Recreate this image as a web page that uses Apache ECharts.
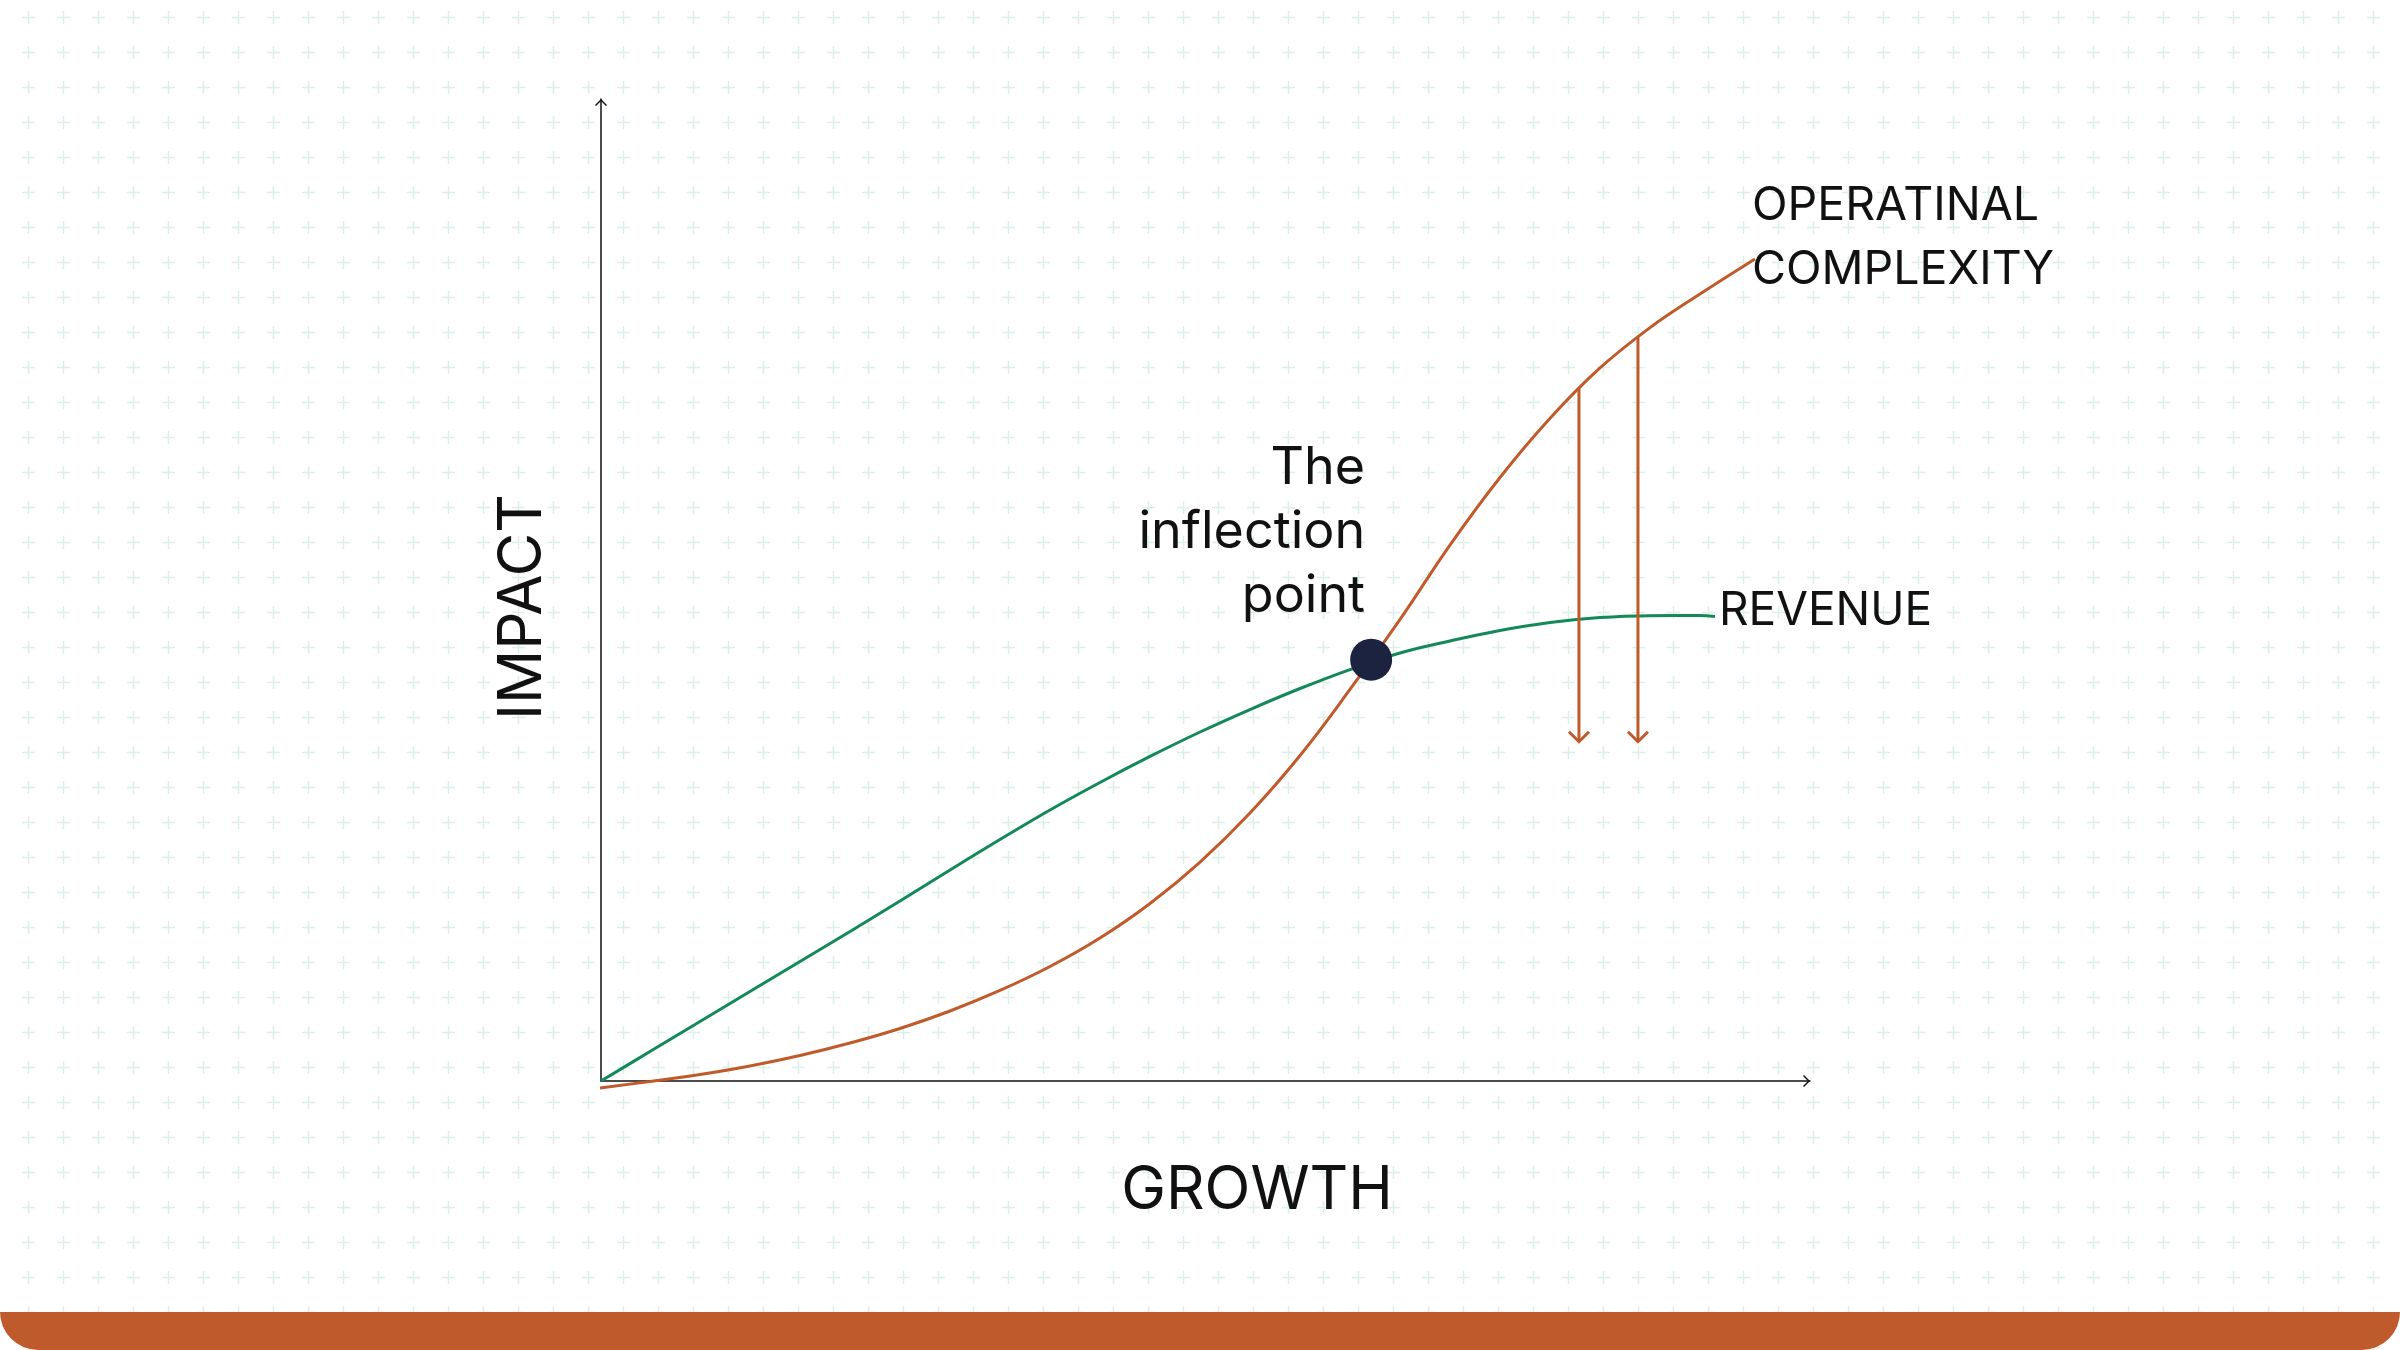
<!DOCTYPE html>
<html>
<head>
<meta charset="utf-8">
<script src="https://cdn.jsdelivr.net/npm/echarts@6/dist/echarts.min.js"></script>
<style>
  html, body { margin: 0; padding: 0; background: #ffffff; }
  #chart {
    width: 2400px; height: 1350px;
    background-color: #ffffff;
    background-image: url("data:image/svg+xml;utf8,<svg xmlns='http://www.w3.org/2000/svg' width='35' height='35'><path d='M11 17.5 H24 M17.5 11 V24' stroke='%23dcefe8' stroke-width='1.5' fill='none'/></svg>");
    background-size: 35px 35px;
    background-position: 10.5px -0.5px;
  }
</style>
</head>
<body>
<div id="chart"></div>
<script>
// ---- data (x = growth, y = impact, both on a 0..100 scale) ----
const revenueX = [0, 4.05, 8.19, 12.32, 16.46, 20.60, 24.73, 28.87, 33.00, 37.14, 41.27, 45.41, 49.55, 53.68, 57.82, 61.95, 66.09, 70.22, 74.36, 78.50, 82.63, 86.77, 90.90, 92.14];
const revenueY = [0, 3.00, 6.06, 9.11, 12.17, 15.22, 18.33, 21.49, 24.59, 27.60, 30.40, 33.05, 35.54, 37.83, 39.97, 41.90, 43.59, 44.81, 45.88, 46.69, 47.20, 47.39, 47.41, 47.30];

const complexityX = [-0.08, 4.05, 8.19, 12.32, 16.46, 20.60, 24.73, 28.87, 33.00, 37.14, 41.27, 45.41, 49.55, 53.68, 57.82, 61.95, 66.09, 70.22, 74.36, 78.50, 82.63, 86.77, 90.90, 95.45];
const complexityY = [-0.71, -0.05, 0.66, 1.53, 2.60, 3.87, 5.35, 7.13, 9.22, 11.66, 14.56, 18.08, 22.30, 27.29, 33.15, 39.87, 47.00, 54.58, 61.46, 67.49, 72.61, 76.72, 80.14, 83.71];

const inflectionPoint = [63.7, 42.9];

// arrows: [x, yTop (on complexity curve), yBottom]
const arrowX = [80.89, 85.77];
const arrowTop = [70.57, 75.76];
const arrowBottom = [34.55, 34.55];

const labels = {
  revenue: 'REVENUE',
  complexity: 'OPERATINAL\nCOMPLEXITY',
  inflection: 'The\ninflection\npoint',
  xName: 'GROWTH',
  yName: 'IMPACT'
};

// ---- styles ----
const ORANGE = '#c05a2b';
const GREEN = '#138859';
const NAVY = '#1b2340';
const INK = '#111111';
const FONT = 'Inter, "Noto Sans", sans-serif';
const chevron = 'path://M6,0 L12,6 L11,7 L6,2 L1,7 L0,6 Z';

const zip = (a, b) => a.map((v, i) => [v, b[i]]);

const chart = echarts.init(document.getElementById('chart'), null, { renderer: 'canvas' });

const axisCommon = {
  type: 'value',
  min: 0,
  max: 100,
  axisLabel: { show: false },
  axisTick: { show: false },
  splitLine: { show: false },
  axisLine: {
    show: true,
    onZero: false,
    symbol: ['none', chevron],
    symbolSize: [12, 7],
    symbolOffset: [0, -3.5],
    lineStyle: { color: INK, width: 1.5 }
  }
};

chart.setOption({
  animation: false,
  backgroundColor: 'transparent',
  grid: { left: 601, right: 590, top: 99, bottom: 269, containLabel: false },
  xAxis: axisCommon,
  yAxis: axisCommon,
  graphic: [
    {
      type: 'rect',
      left: 0, bottom: 0,
      shape: { width: 2400, height: 38, r: [0, 0, 38, 38] },
      style: { fill: '#bf5a2c' },
      z: 100
    },
    {
      type: 'text',
      x: 1257, y: 1191,
      style: { text: labels.xName, font: '400 60px ' + FONT, fill: INK, align: 'center', verticalAlign: 'middle' }
    },
    {
      type: 'text',
      x: 523, y: 607,
      rotation: Math.PI / 2,
      style: { text: labels.yName, font: '400 60px ' + FONT, fill: INK, align: 'center', verticalAlign: 'middle' }
    }
  ],
  series: [
    {
      name: 'Revenue',
      type: 'line',
      data: zip(revenueX, revenueY),
      smooth: 0.4,
      showSymbol: false,
      clip: false,
      lineStyle: { color: GREEN, width: 3 },
      itemStyle: { color: GREEN },
      endLabel: {
        show: true,
        formatter: labels.revenue,
        distance: 4,
        offset: [0, -5],
        color: INK,
        fontFamily: FONT,
        fontSize: 46,
        fontWeight: 400
      },
      z: 3
    },
    {
      name: 'Operational complexity',
      type: 'line',
      data: zip(complexityX, complexityY),
      smooth: 0.4,
      showSymbol: false,
      clip: false,
      lineStyle: { color: ORANGE, width: 3 },
      itemStyle: { color: ORANGE },
      endLabel: {
        show: true,
        formatter: labels.complexity,
        distance: 0,
        offset: [-3, -21],
        color: INK,
        fontFamily: FONT,
        fontSize: 46.5,
        lineHeight: 64,
        fontWeight: 400
      },
      z: 3
    },
    {
      name: 'Arrows',
      type: 'custom',
      clip: false,
      data: arrowX.map((x, i) => [x, arrowTop[i], arrowBottom[i]]),
      renderItem: function (params, api) {
        const top = api.coord([api.value(0), api.value(1)]);
        const bot = api.coord([api.value(0), api.value(2)]);
        return {
          type: 'group',
          children: [
            {
              type: 'line',
              shape: { x1: top[0], y1: top[1], x2: bot[0], y2: bot[1] - 1 },
              style: { stroke: ORANGE, lineWidth: 3 }
            },
            {
              type: 'polyline',
              shape: { points: [[bot[0] - 10, bot[1] - 10], [bot[0], bot[1]], [bot[0] + 10, bot[1] - 10]] },
              style: { stroke: ORANGE, lineWidth: 3, fill: null }
            }
          ]
        };
      },
      z: 4
    },
    {
      name: 'Inflection point',
      type: 'scatter',
      data: [inflectionPoint],
      symbol: 'circle',
      symbolSize: 42,
      itemStyle: { color: NAVY, opacity: 1 },
      label: {
        show: true,
        formatter: labels.inflection,
        position: 'left',
        distance: -15,
        offset: [0, -127],
        align: 'right',
        verticalAlign: 'middle',
        color: INK,
        fontFamily: FONT,
        fontSize: 52,
        lineHeight: 64,
        fontWeight: 400
      },
      z: 5
    }
  ]
});
</script>
</body>
</html>
